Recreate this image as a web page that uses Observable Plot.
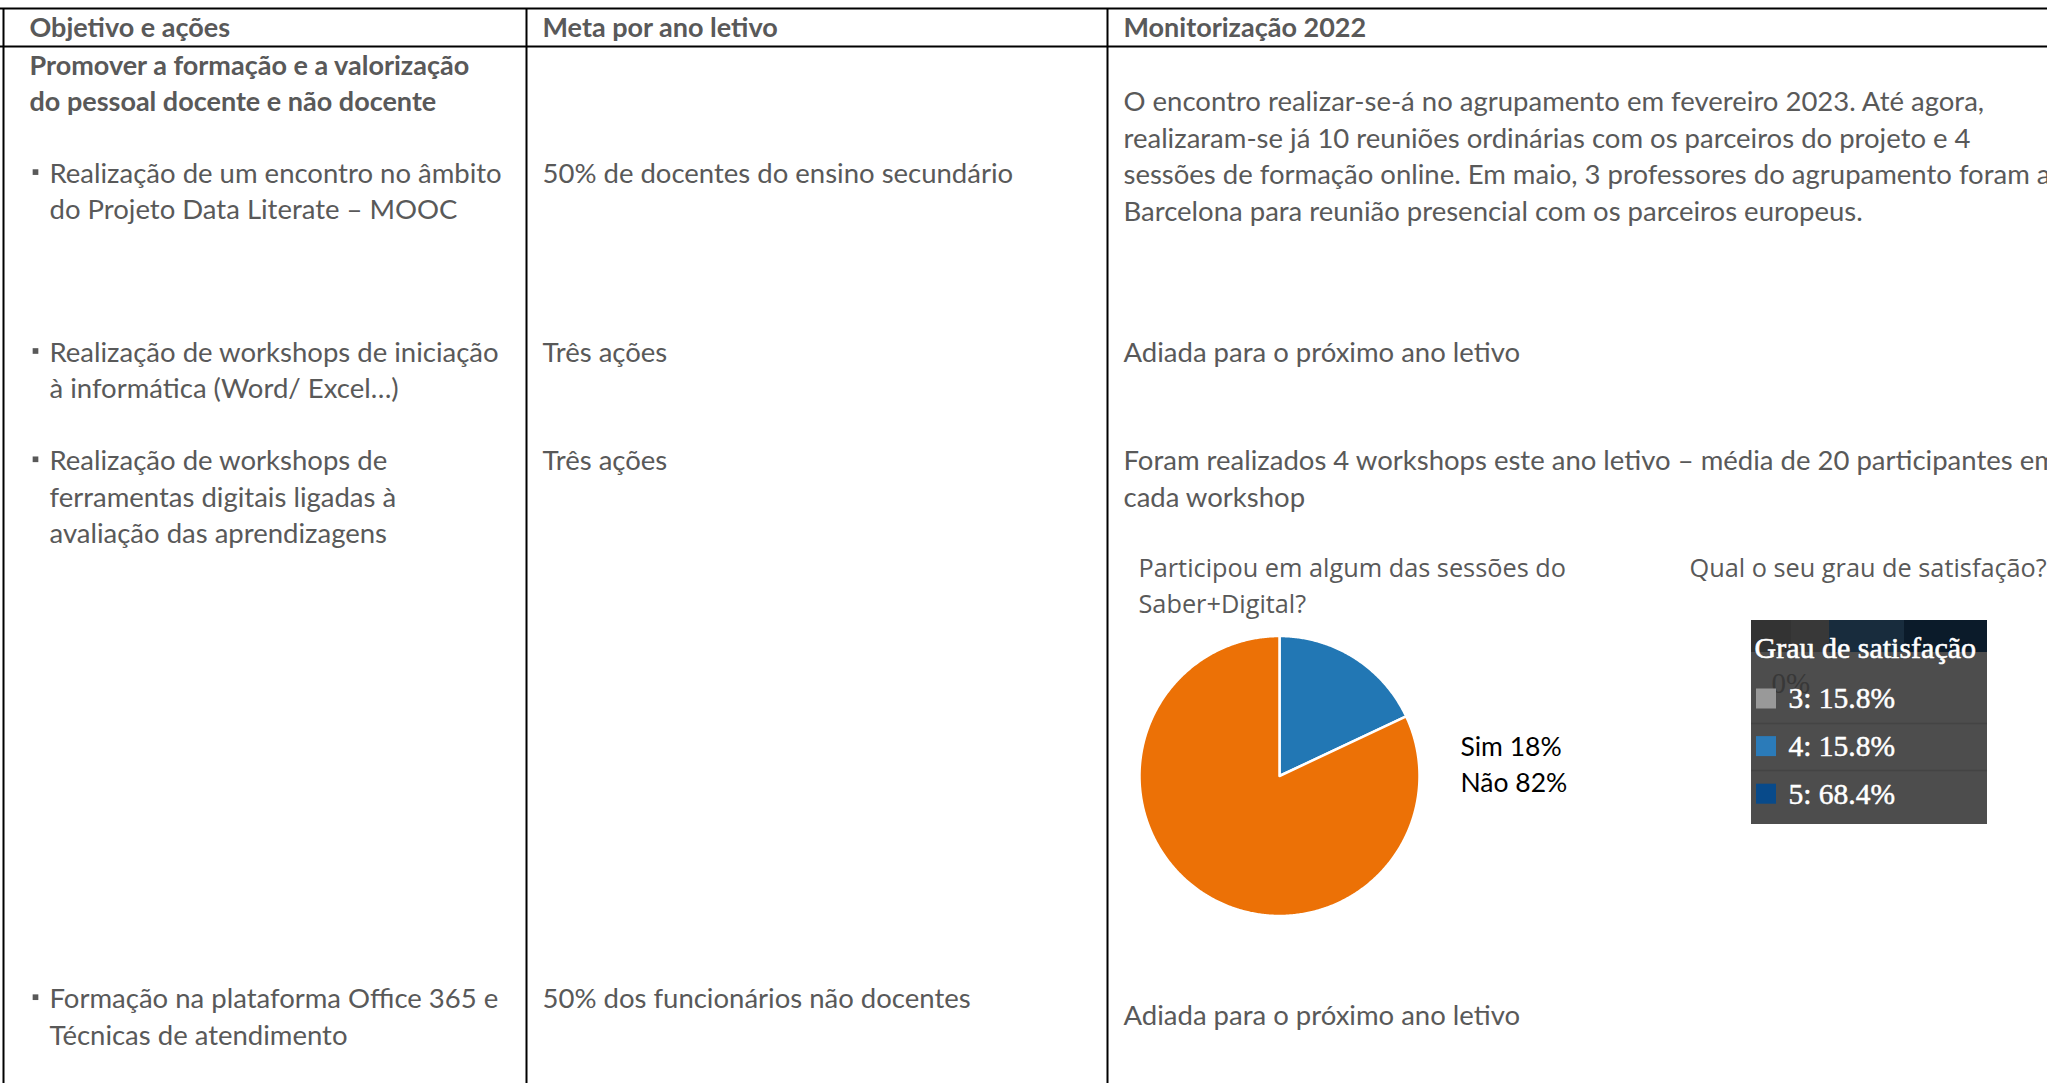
<!DOCTYPE html>
<html><head><meta charset="utf-8">
<script src="https://cdn.jsdelivr.net/npm/d3@7"></script>
<script src="https://cdn.jsdelivr.net/npm/@observablehq/plot@0.6"></script>
<style>
html,body{margin:0;padding:0;background:#fff;overflow:hidden}
</style></head><body><div id="chart"></div>
<script>
// ---------- data ----------
const headers = ["Objetivo e ações", "Meta por ano letivo", "Monitorização 2022"];
const objective = ["Promover a formação e a valorização", "do pessoal docente e não docente"];
const actions = [
  ["Realização de um encontro no âmbito", "do Projeto Data Literate – MOOC"],
  ["Realização de workshops de iniciação", "à informática (Word/ Excel…)"],
  ["Realização de workshops de", "ferramentas digitais ligadas à", "avaliação das aprendizagens"],
  ["Formação na plataforma Office 365 e", "Técnicas de atendimento"]
];
const targets = ["50% de docentes do ensino secundário", "Três ações", "Três ações", "50% dos funcionários não docentes"];
const monitoring = [
  ["O encontro realizar-se-á no agrupamento em fevereiro 2023. Até agora,",
   "realizaram-se já 10 reuniões ordinárias com os parceiros do projeto e 4",
   "sessões de formação online. Em maio, 3 professores do agrupamento foram a",
   "Barcelona para reunião presencial com os parceiros europeus."],
  ["Adiada para o próximo ano letivo"],
  ["Foram realizados 4 workshops este ano letivo – média de 20 participantes em",
   "cada workshop"],
  ["Adiada para o próximo ano letivo"]
];
const pieQuestion = ["Participou em algum das sessões do", "Saber+Digital?"];
const pieCategories = ["Sim", "Não"];
const pieValues = [18, 82];
const satisfactionQuestion = "Qual o seu grau de satisfação?";
const legendTitle = "Grau de satisfação";
const satisfactionLevels = ["3", "4", "5"];
const satisfactionShares = [15.8, 15.8, 68.4];
const hiddenAxisLabel = "0%";

// ---------- layout (pixels) ----------
const W = 2047, H = 1083;
const colX = [3, 526, 1107];
const textX = [49, 542, 1123];
const boldX = [29, 542, 1123];
const bulletX = 35;
const lineStep = 36.5;
const actionY = [173.6, 352.5, 460.8, 998.7];
const monitorY = [101.8, 352.5, 460.8, 1015.7];
const gray = "#595959";
const bodyFont = "Lato, 'Open Sans', sans-serif";
const bodySize = 27.5;
const boldSize = 27;

const bodyText = [];
actions.forEach((lines, i) => lines.forEach((t, j) => bodyText.push({t, x: textX[0], y: actionY[i] + j * lineStep})));
targets.forEach((t, i) => bodyText.push({t, x: textX[1], y: actionY[i]}));
monitoring.forEach((lines, i) => lines.forEach((t, j) => bodyText.push({t, x: textX[2], y: monitorY[i] + j * lineStep})));
const bullets = actions.map((_, i) => ({x: bulletX, y: actionY[i] - 2}));

const boldText = headers.map((t, i) => ({t, x: boldX[i], y: 27.5}))
  .concat(objective.map((t, j) => ({t, x: boldX[0], y: 65.5 + j * lineStep})));

// pie
const pie = {cx: 1279, cy: 775.5, r: 140};
const pieColors = ["#2277B4", "#EC7106"];
const arcs = d3.pie().sort(null).startAngle(0).endAngle(2 * Math.PI)(pieValues);
const slicePts = [];
arcs.forEach((a, i) => {
  const cat = pieCategories[i];
  slicePts.push({cat, x: pie.cx, y: pie.cy});
  const n = Math.max(2, Math.ceil((a.endAngle - a.startAngle) / (Math.PI / 360)));
  for (let k = 0; k <= n; k++) {
    const ang = a.startAngle + (a.endAngle - a.startAngle) * k / n;
    slicePts.push({cat, x: pie.cx + pie.r * Math.sin(ang), y: pie.cy - pie.r * Math.cos(ang)});
  }
  slicePts.push({cat, x: pie.cx, y: pie.cy});
});
const pieLabels = pieCategories.map((c, i) => ({t: `${c} ${pieValues[i]}%`, x: 1460, y: 746.7 + i * lineStep}));
const questions = pieQuestion.map((t, j) => ({t, x: 1138, y: 568 + j * lineStep}))
  .concat([{t: satisfactionQuestion, x: 1689, y: 568}]);

// satisfaction legend box
const box = {x1: 1751, x2: 1987, y1: 620, y2: 824};
const legendColors = ["#999999", "#2B7BB9", "#084A8A"];
const legendItems = satisfactionLevels.map((lvl, i) => ({
  lvl, color: legendColors[i],
  t: `${lvl}: ${satisfactionShares[i].toFixed(1)}%`,
  y: 698.5 + i * 47.6
}));
const stripCells = [
  {x1: 1751, x2: 1791, fill: "#333333"},
  {x1: 1791, x2: 1829, fill: "#383838"},
  {x1: 1829, x2: 1904, fill: "#182C3D"},
  {x1: 1904, x2: 1987, fill: "#0B1B2A"}
];
const serif = "'Liberation Serif', 'Times New Roman', serif";

const chart = Plot.plot({
  width: W, height: H,
  margin: 0,
  x: {domain: [0, W], range: [0, W], axis: null},
  y: {domain: [0, H], range: [0, H], axis: null},
  style: {background: "#ffffff"},
  marks: [
    // table borders
    Plot.ruleY([8, 46], {x1: 0, x2: W, stroke: "#000", strokeWidth: 2}),
    Plot.ruleX(colX, {y1: 8, y2: H, stroke: "#000", strokeWidth: 2}),
    // table text
    Plot.text(boldText, {x: "x", y: "y", text: "t", textAnchor: "start", lineAnchor: "middle",
      fontFamily: bodyFont, fontSize: boldSize, fontWeight: "bold", fill: gray}),
    Plot.text(bodyText, {x: "x", y: "y", text: "t", textAnchor: "start", lineAnchor: "middle",
      fontFamily: bodyFont, fontSize: bodySize, fill: gray}),
    Plot.dot(bullets, {x: "x", y: "y", symbol: "square", r: 3.2, fill: gray, stroke: null}),
    // pie
    Plot.text(questions, {x: "x", y: "y", text: "t", textAnchor: "start", lineAnchor: "middle",
      fontFamily: "'Open Sans', sans-serif", fontSize: 25.3, fill: gray}),
    Plot.line(slicePts, {x: "x", y: "y", z: "cat",
      fill: d => pieColors[pieCategories.indexOf(d.cat)],
      stroke: "#ffffff", strokeWidth: 2.5, strokeLinejoin: "round"}),
    Plot.text(pieLabels, {x: "x", y: "y", text: "t", textAnchor: "start", lineAnchor: "middle",
      fontFamily: bodyFont, fontSize: 26.5, fill: "#000"}),
    // satisfaction legend panel
    Plot.rect([box], {x1: "x1", x2: "x2", y1: "y1", y2: "y2", fill: "#4D4D4D"}),
    Plot.rect(stripCells, {x1: "x1", x2: "x2", y1: box.y1, y2: box.y1 + 32, fill: "fill"}),
    Plot.ruleY([723, 770], {x1: box.x1, x2: box.x2, stroke: "#444444", strokeWidth: 1.5}),
    Plot.text([hiddenAxisLabel], {x: 1771, y: 683, text: d => d, textAnchor: "start", lineAnchor: "middle",
      fontFamily: serif, fontSize: 29, fill: "#383838"}),
    Plot.text([legendTitle], {x: 1754, y: 648, text: d => d, textAnchor: "start", lineAnchor: "middle",
      fontFamily: serif, fontSize: 30, fill: "#ffffff", stroke: "#ffffff", strokeWidth: 0.6}),
    Plot.rect(legendItems, {x1: 1756, x2: 1776, y1: d => d.y - 10, y2: d => d.y + 10, fill: "color"}),
    Plot.text(legendItems, {x: 1788, y: "y", text: "t", textAnchor: "start", lineAnchor: "middle",
      fontFamily: serif, fontSize: 29.5, fill: "#ffffff", stroke: "#ffffff", strokeWidth: 0.5})
  ]
});
document.getElementById("chart").appendChild(chart);
</script>
</body></html>
